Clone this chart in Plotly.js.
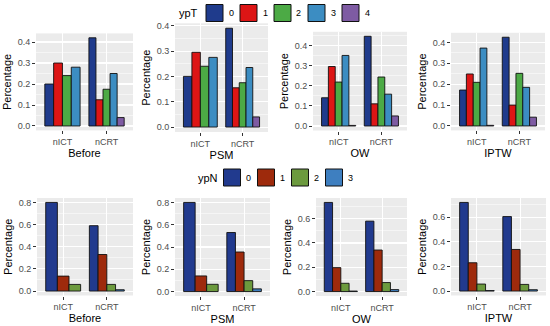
<!DOCTYPE html>
<html>
<head>
<meta charset="utf-8">
<script src="https://cdn.plot.ly/plotly-3.0.1.min.js"></script>
<style>html,body{margin:0;padding:0;background:#fff;}#chart{width:550px;height:326px;}</style>
</head>
<body>
<div id="chart"></div>
<script>
// ---------------- DATA ----------------
const categories = ['nICT', 'nCRT'];
const methods = ['Before', 'PSM', 'OW', 'IPTW'];

const ypT_levels = ['0', '1', '2', '3', '4'];
const ypT_colors = ['#1F3B8C', '#DD1515', '#4CAA45', '#3C8DC2', '#7E5BA3'];

const ypN_levels = ['0', '1', '2', '3'];
const ypN_colors = ['#213A8E', '#9E2A0C', '#6C9A3E', '#3E7FC0'];

// ypT proportions (levels 0..4); null = level absent
const ypT_Before_nICT = [0.20, 0.30, 0.24, 0.28, null];
const ypT_Before_nCRT = [0.42, 0.125, 0.175, 0.25, 0.04];
const ypT_PSM_nICT    = [0.20, 0.295, 0.24, 0.275, null];
const ypT_PSM_nCRT    = [0.39, 0.155, 0.175, 0.235, 0.04];
const ypT_OW_nICT     = [0.14, 0.295, 0.218, 0.35, 0.003];
const ypT_OW_nCRT     = [0.445, 0.11, 0.243, 0.158, 0.05];
const ypT_IPTW_nICT   = [0.172, 0.249, 0.209, 0.373, 0.003];
const ypT_IPTW_nCRT   = [0.425, 0.10, 0.252, 0.185, 0.042];

// ypN proportions (levels 0..3)
const ypN_Before_nICT = [0.80, 0.135, 0.06, null];
const ypN_Before_nCRT = [0.59, 0.33, 0.06, 0.012];
const ypN_PSM_nICT    = [0.80, 0.14, 0.065, null];
const ypN_PSM_nCRT    = [0.53, 0.355, 0.098, 0.024];
const ypN_OW_nICT     = [0.734, 0.197, 0.068, 0.004];
const ypN_OW_nCRT     = [0.58, 0.342, 0.074, 0.016];
const ypN_IPTW_nICT   = [0.72, 0.23, 0.057, 0.004];
const ypN_IPTW_nCRT   = [0.605, 0.338, 0.054, 0.011];

// ---------------- LAYOUT HELPERS ----------------
const W = 550, H = 326;
const FONT = 'Liberation Sans, Arial, Helvetica, sans-serif';
const fx = (a, b) => [a / W, b / W];
const fy = (top, bottom) => [1 - bottom / H, 1 - top / H];

const panels = [
  {set: 'ypT', method: 'Before', data: [ypT_Before_nICT, ypT_Before_nCRT], xd: fx(36, 133), yd: fy(33.4, 130.4), dtick: 0.1},
  {set: 'ypT', method: 'PSM',    data: [ypT_PSM_nICT, ypT_PSM_nCRT],       xd: fx(175, 268), yd: fy(23.3, 132), dtick: 0.1},
  {set: 'ypT', method: 'OW',     data: [ypT_OW_nICT, ypT_OW_nCRT],         xd: fx(313, 407), yd: fy(31.8, 130.5), dtick: 0.1},
  {set: 'ypT', method: 'IPTW',   data: [ypT_IPTW_nICT, ypT_IPTW_nCRT],     xd: fx(451, 545), yd: fy(32.8, 130.4), dtick: 0.1},
  {set: 'ypN', method: 'Before', data: [ypN_Before_nICT, ypN_Before_nCRT], xd: fx(37, 133), yd: fy(198, 295.5), dtick: 0.2},
  {set: 'ypN', method: 'PSM',    data: [ypN_PSM_nICT, ypN_PSM_nCRT],       xd: fx(175, 270), yd: fy(198, 296), dtick: 0.2},
  {set: 'ypN', method: 'OW',     data: [ypN_OW_nICT, ypN_OW_nCRT],         xd: fx(316, 407), yd: fy(198, 296), dtick: 0.2},
  {set: 'ypN', method: 'IPTW',   data: [ypN_IPTW_nICT, ypN_IPTW_nCRT],     xd: fx(451, 546), yd: fy(198, 295.5), dtick: 0.2}
];

const traces = [];
const shapes = [];
const annotations = [];
const layout = {
  width: W, height: H,
  margin: {l: 0, r: 0, t: 0, b: 0},
  paper_bgcolor: '#FFFFFF',
  plot_bgcolor: '#EBEBEB',
  barmode: 'overlay',
  font: {family: FONT, size: 9, color: '#4D4D4D'},
  showlegend: false,
  shapes: shapes,
  annotations: annotations
};

const GROUP = 0.8; // dodge width

panels.forEach((p, i) => {
  const n = i + 1;
  const xa = 'x' + (n === 1 ? '' : n), ya = 'y' + (n === 1 ? '' : n);
  const levels = p.set === 'ypT' ? ypT_levels : ypN_levels;
  const colors = p.set === 'ypT' ? ypT_colors : ypN_colors;
  // dodge: only the levels present in a category share the group width
  const present = p.data.map(arr => arr.map(v => v !== null));
  const counts = present.map(pr => pr.filter(Boolean).length);
  let maxV = 0;
  p.data.forEach(arr => arr.forEach(v => { if (v !== null && v > maxV) maxV = v; }));

  levels.forEach((lev, k) => {
    const y = p.data.map(arr => arr[k]);
    const widths = [], offsets = [];
    p.data.forEach((arr, c) => {
      const w = GROUP / counts[c];
      const idx = present[c].slice(0, k).filter(Boolean).length;
      widths.push(w);
      offsets.push(-GROUP / 2 + idx * w);
    });
    traces.push({
      type: 'bar', x: categories, y: y, name: lev,
      xaxis: xa, yaxis: ya,
      width: widths, offset: offsets,
      marker: {color: colors[k], line: {color: '#111', width: 0.9}},
      hoverinfo: 'x+y+name'
    });
  });

  const xk = 'xaxis' + (n === 1 ? '' : n), yk = 'yaxis' + (n === 1 ? '' : n);
  layout[xk] = {
    domain: p.xd, anchor: ya, type: 'category', range: [-0.6, 1.6],
    showgrid: true, gridcolor: '#FFFFFF', gridwidth: 1.1, zeroline: false, showline: false,
    ticks: 'outside', ticklen: 3, tickwidth: 1, tickcolor: '#333333',
    tickfont: {size: 9, color: '#4D4D4D'},
    title: {text: p.method, font: {size: 11, color: '#000'}, standoff: 0},
    fixedrange: true
  };
  layout[yk] = {
    domain: p.yd, anchor: xa, range: [-0.05 * maxV, 1.05 * maxV],
    tick0: 0, dtick: p.dtick, tickformat: '.1f',
    showgrid: true, gridcolor: '#FFFFFF', gridwidth: 1.1, zeroline: false, showline: false,
    minor: {dtick: p.dtick / 2, tick0: 0, showgrid: true, gridcolor: '#FFFFFF', gridwidth: 0.5, ticks: ''},
    ticks: 'outside', ticklen: 3, tickwidth: 1, tickcolor: '#333333',
    tickfont: {size: 9, color: '#4D4D4D'},
    title: {text: 'Percentage', font: {size: 11, color: '#000'}, standoff: 3},
    fixedrange: true
  };
});

// ---------------- LEGEND KEYS (ggplot-style, top of each row) ----------------
function legendKey(title, levels, colors, titleCx, firstLeft, cy) {
  const KEY = 17, PITCH = 34, LABEL_DX = 25;
  annotations.push({
    xref: 'paper', yref: 'paper', x: titleCx / W, y: 1 - cy / H,
    text: title, showarrow: false, xanchor: 'center', yanchor: 'middle',
    font: {family: FONT, size: 11, color: '#000'}
  });
  levels.forEach((lev, k) => {
    const left = firstLeft + k * PITCH;
    shapes.push({
      type: 'rect', xref: 'paper', yref: 'paper',
      x0: left / W, x1: (left + KEY) / W,
      y0: 1 - (cy + KEY / 2) / H, y1: 1 - (cy - KEY / 2) / H,
      fillcolor: colors[k], line: {color: '#111', width: 1}
    });
    annotations.push({
      xref: 'paper', yref: 'paper', x: (left + LABEL_DX) / W, y: 1 - cy / H,
      text: lev, showarrow: false, xanchor: 'center', yanchor: 'middle',
      font: {family: FONT, size: 9, color: '#000'}
    });
  });
}
legendKey('ypT', ypT_levels, ypT_colors, 188, 206, 13);
legendKey('ypN', ypN_levels, ypN_colors, 208, 223.5, 177.5);

Plotly.newPlot('chart', traces, layout, {displayModeBar: false, staticPlot: true});
</script>
</body>
</html>
